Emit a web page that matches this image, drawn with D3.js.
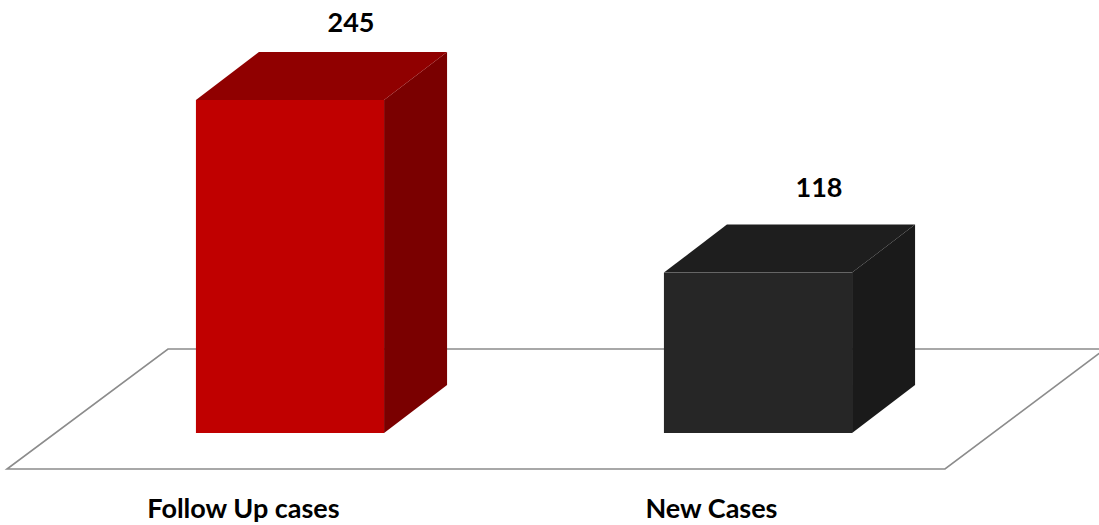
<!DOCTYPE html>
<html><head><meta charset="utf-8">
<script src="https://cdn.jsdelivr.net/npm/d3@7"></script>
<style>html,body{margin:0;padding:0;background:#fff;}svg{display:block;}</style>
</head><body><svg id="c" width="1099" height="525"></svg>
<script>
const categories = ["Follow Up cases", "New Cases"];
const values = [245, 118];
const frontColors = ["#C00000", "#262626"];
const topColors = ["#900000", "#1E1E1E"];
const sideColors = ["#7A0000", "#1A1A1A"];

const svg = d3.select("#c");
const baseY = 433;
const dx = 63, dy = -48;

const x = d3.scaleBand().domain(categories).range([56, 992]).paddingInner(0.598).paddingOuter(0.299);
const y = d3.scaleLinear().domain([0, 300]).range([baseY, baseY - 300 * 1.3592]);

// floor
svg.append("polygon")
  .attr("points", [[7,469],[945,469],[1105,349],[168,349]].map(p=>p.join(",")).join(" "))
  .attr("fill", "#fff").attr("stroke", "#8C8C8C").attr("stroke-width", 1.6);

const font = "Lato, 'Open Sans', sans-serif";
const g = svg.append("g");
categories.forEach((c, i) => {
  const x0 = x(c), x1 = x0 + x.bandwidth();
  const yt = y(values[i]), yb = y(0);
  g.append("polygon").attr("points", [[x1,yb],[x1+dx,yb+dy],[x1+dx,yt+dy],[x1,yt]].map(p=>p.join(",")).join(" "))
    .attr("fill", sideColors[i]);
  g.append("polygon").attr("points", [[x0,yt],[x1,yt],[x1+dx,yt+dy],[x0+dx,yt+dy]].map(p=>p.join(",")).join(" "))
    .attr("fill", topColors[i]);
  g.append("rect").attr("x", x0).attr("y", yt).attr("width", x.bandwidth()).attr("height", yb - yt)
    .attr("fill", frontColors[i]);
  g.append("text").attr("x", x0 + x.bandwidth()/2 + 61).attr("y", 0.955 * yt - 63.5)
    .attr("text-anchor", "middle").attr("font-family", font)
    .attr("font-weight", 700).attr("font-size", 27).attr("fill", "#000").text(values[i]);
  g.append("text").attr("x", x0 + x.bandwidth()/2 - 46.5).attr("y", 518)
    .attr("text-anchor", "middle").attr("font-family", font)
    .attr("font-weight", 700).attr("font-size", 27).attr("fill", "#000").text(c);
});
</script></body></html>
